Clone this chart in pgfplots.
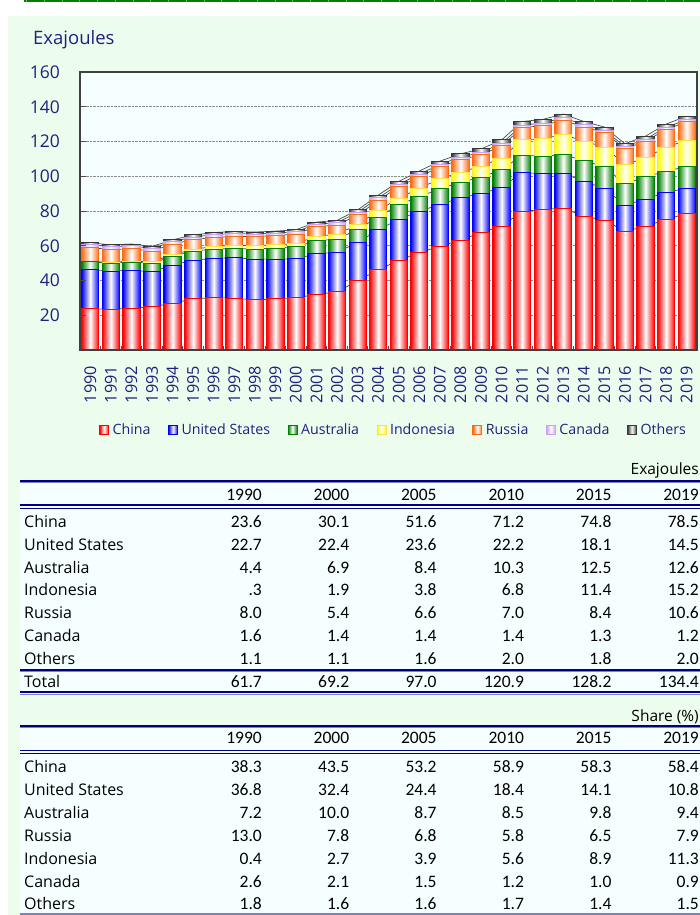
\documentclass[border=0pt]{standalone}
\usepackage{fontspec}
\setmainfont{Open Sans}
\newfontfamily\carlito{Carlito}
\usepackage{pgfplots}
\pgfplotsset{compat=1.18}
\usepackage{pgfplotstable}

\definecolor{panelbg}{HTML}{EDFDED}
\definecolor{plotbg}{HTML}{F5FFFF}
\definecolor{navytxt}{HTML}{202080}
\definecolor{tabline}{HTML}{000080}
\definecolor{tablight}{HTML}{8080C0}
\definecolor{cChn}{HTML}{FF0000}
\definecolor{cUS}{HTML}{0000FF}
\definecolor{cAus}{HTML}{008000}
\definecolor{cInd}{HTML}{FFFF00}
\definecolor{cIndB}{HTML}{FFE040}
\definecolor{cRus}{HTML}{FF6A10}
\definecolor{cCan}{HTML}{C8A0F8}
\definecolor{cOth}{HTML}{383838}
\definecolor{topgreen}{HTML}{008000}

\pgfplotstableread{
year China US Australia Indonesia Russia Canada Others
1990 23.6 22.7 4.4 0.3 8.0 1.6 1.1
1991 23.5 21.9 4.6 0.4 7.4 1.6 1.1
1992 24.0 22.0 4.6 0.5 7.2 1.6 1.1
1993 24.8 20.2 5.0 0.8 6.1 1.6 1.1
1994 26.9 21.9 5.0 1.0 6.2 1.4 1.0
1995 29.4 22.3 5.2 1.0 5.6 1.5 1.2
1996 30.2 22.5 5.4 1.5 5.2 1.6 1.2
1997 29.8 23.3 5.4 1.7 5.2 1.6 1.2
1998 28.8 23.5 5.8 1.9 5.2 1.5 1.2
1999 29.4 22.9 6.4 1.8 5.4 1.4 1.1
2000 30.1 22.4 6.9 1.9 5.4 1.4 1.1
2001 31.9 23.5 7.5 2.5 5.6 1.4 1.2
2002 33.5 22.8 7.5 2.9 5.2 1.4 1.3
2003 39.8 22.1 7.5 2.7 5.6 1.5 1.4
2004 46.2 23.0 7.3 3.7 5.8 1.5 1.6
2005 51.6 23.6 8.4 3.8 6.6 1.4 1.6
2006 56.0 23.8 8.5 4.8 6.7 1.4 1.8
2007 59.8 24.0 8.9 5.8 6.9 1.4 1.9
2008 63.1 24.4 9.0 5.8 7.3 1.4 1.9
2009 67.7 22.3 9.4 6.4 6.5 1.4 2.0
2010 71.2 22.2 10.3 6.8 7.0 1.4 2.0
2011 79.8 22.5 9.8 8.9 6.9 1.5 2.1
2012 80.8 20.5 10.2 10.0 7.7 1.4 2.1
2013 81.7 20.0 10.8 11.5 8.3 1.4 2.1
2014 76.9 20.2 11.9 11.2 8.1 1.3 1.9
2015 74.8 18.1 12.5 11.4 8.4 1.3 1.8
2016 68.3 15.0 12.3 11.1 9.1 1.2 1.7
2017 71.2 15.7 12.7 11.0 9.6 1.2 1.7
2018 75.2 15.6 12.1 13.8 10.2 1.3 1.8
2019 78.5 14.5 12.6 15.2 10.6 1.2 2.0
}\energydata

\pgfplotsset{
  base/.style={width=617pt,height=278pt,scale only axis,at={(80pt,-350pt)},anchor=south west,
    xmin=1989.5,xmax=2019.5,ymin=0,ymax=160},
  bs/.style 2 args={draw=#2,line width=1pt,left color=#1,right color=#1,middle color=white},
  one/.style={bar shift=0pt,forget plot,restrict x to domain=#1:#1},
  serl/.style={draw=black!70,line width=0.7pt,mark=none},
}

\newcommand\trow[8]{%
  \node[lab] at (24pt,-#1pt) {#2};
  \node[num] at (262pt,-#1pt) {#3};
  \node[num] at (349.4pt,-#1pt) {#4};
  \node[num] at (436.8pt,-#1pt) {#5};
  \node[num] at (524.2pt,-#1pt) {#6};
  \node[num] at (611.6pt,-#1pt) {#7};
  \node[num] at (699pt,-#1pt) {#8};
}

\begin{document}
\begin{tikzpicture}[
  lab/.style={anchor=base west,inner sep=0pt,font=\fontsize{16}{18}\selectfont},
  num/.style={anchor=base east,inner sep=0pt,font=\carlito\fontsize{17.5}{20}\selectfont},
]
\useasboundingbox (0,0) rectangle (700pt,-915pt);
\fill[white] (0,0) rectangle (700pt,-915pt);
\fill[topgreen] (24pt,0) rectangle (700pt,-2.5pt);
\foreach \k in {0,...,37} {\draw[green!45!black!60, line width=0.8pt] ({26.5pt+17.75pt*\k},0) -- ++(0,-2.5pt);}
\fill[panelbg] (8pt,-16pt) rectangle (700pt,-915pt);
\node[anchor=west,text=navytxt,font=\fontsize{18.5}{20}\selectfont,inner sep=0pt] at (33pt,-40pt) {Exajoules};

% series lines and background
\begin{axis}[base,
  axis background/.style={fill=plotbg},
  axis line style={draw=none},
  xtick=\empty, ytick={20,40,...,140}, yticklabels={},
  ymajorgrids, grid style={densely dotted,draw=gray!90,line width=0.7pt},
  major tick length=0pt]
\addplot[serl] table[x=year,y=China]{\energydata};
\addplot[serl] table[x=year,y expr=\thisrow{China}+\thisrow{US}]{\energydata};
\addplot[serl] table[x=year,y expr=\thisrow{China}+\thisrow{US}+\thisrow{Australia}]{\energydata};
\addplot[serl] table[x=year,y expr=\thisrow{China}+\thisrow{US}+\thisrow{Australia}+\thisrow{Indonesia}]{\energydata};
\addplot[serl] table[x=year,y expr=\thisrow{China}+\thisrow{US}+\thisrow{Australia}+\thisrow{Indonesia}+\thisrow{Russia}]{\energydata};
\addplot[serl] table[x=year,y expr=\thisrow{China}+\thisrow{US}+\thisrow{Australia}+\thisrow{Indonesia}+\thisrow{Russia}+\thisrow{Canada}]{\energydata};
\addplot[serl] table[x=year,y expr=\thisrow{China}+\thisrow{US}+\thisrow{Australia}+\thisrow{Indonesia}+\thisrow{Russia}+\thisrow{Canada}+\thisrow{Others}]{\energydata};
\end{axis}

% bars: each bar drawn on its own (cumulative heights, top level first)
\begin{axis}[base,
  ybar, bar width=0.84,
  axis on top,
  axis line style={draw=black!75,line width=1.3pt},
  ytick={20,40,...,160},
  xtick={1990,...,2019},
  minor xtick={1990.5,1991.5,...,2018.5},
  tick align=inside, xtick pos=bottom, ytick pos=left,
  major tick length=6pt, minor tick length=4pt,
  tick style={draw=black!70,line width=1pt},
  major x tick style={draw=none},
  /pgf/number format/1000 sep={},
  /pgf/number format/assume math mode=true,
  yticklabel style={font=\fontsize{17.5}{20}\selectfont,text=navytxt,inner sep=0pt,xshift=-20pt},
  xticklabel style={font=\fontsize{16.2}{18}\selectfont,text=navytxt,inner sep=0pt,yshift=-16pt,rotate=90,anchor=east},
  legend columns=7,
  legend style={at={(0.0308,-0.2878)},anchor=west,draw=none,fill=none,inner sep=0pt,
    font=\fontsize{14.2}{16}\selectfont,text=navytxt,nodes={inner sep=0pt},
    /tikz/every odd column/.append style={column sep=3.5pt},
    /tikz/every even column/.append style={column sep=17.5pt}},
  legend image code/.code={\draw[#1,line width=1pt] (0pt,-4.5pt) rectangle (9pt,4.5pt);},
]
\pgfplotsinvokeforeach{1990,...,2019}{
\addplot[bs={cOth}{cOth},one=#1] table[x=year,y expr=\thisrow{China}+\thisrow{US}+\thisrow{Australia}+\thisrow{Indonesia}+\thisrow{Russia}+\thisrow{Canada}+\thisrow{Others}]{\energydata};
\addplot[bs={cCan}{cCan},one=#1] table[x=year,y expr=\thisrow{China}+\thisrow{US}+\thisrow{Australia}+\thisrow{Indonesia}+\thisrow{Russia}+\thisrow{Canada}]{\energydata};
\addplot[bs={cRus}{cRus},one=#1] table[x=year,y expr=\thisrow{China}+\thisrow{US}+\thisrow{Australia}+\thisrow{Indonesia}+\thisrow{Russia}]{\energydata};
\addplot[bs={cInd}{cIndB},one=#1] table[x=year,y expr=\thisrow{China}+\thisrow{US}+\thisrow{Australia}+\thisrow{Indonesia}]{\energydata};
\addplot[bs={cAus}{cAus},one=#1] table[x=year,y expr=\thisrow{China}+\thisrow{US}+\thisrow{Australia}]{\energydata};
\addplot[bs={cUS}{cUS},one=#1] table[x=year,y expr=\thisrow{China}+\thisrow{US}]{\energydata};
\addplot[bs={cChn}{cChn},one=#1] table[x=year,y=China]{\energydata};
}
\addlegendimage{bs={cChn}{cChn}}\addlegendentry{China}
\addlegendimage{bs={cUS}{cUS}}\addlegendentry{United States}
\addlegendimage{bs={cAus}{cAus}}\addlegendentry{Australia}
\addlegendimage{bs={cInd}{cIndB}}\addlegendentry{Indonesia}
\addlegendimage{bs={cRus}{cRus}}\addlegendentry{Russia}
\addlegendimage{bs={cCan}{cCan}}\addlegendentry{Canada}
\addlegendimage{bs={cOth}{cOth}}\addlegendentry{Others}
\end{axis}

% table 1
\fill[plotbg] (20pt,-480pt) rectangle (700pt,-693pt);
\node[anchor=base east,inner sep=0pt,font=\fontsize{15.5}{17}\selectfont] at (699pt,-474.5pt) {Exajoules};
\draw[tabline,line width=2pt] (20pt,-480.5pt) -- (700pt,-480.5pt);
\draw[tablight,line width=0.8pt] (20pt,-482.2pt) -- (700pt,-482.2pt);
\trow{500.8}{}{1990}{2000}{2005}{2010}{2015}{2019}
\draw[tabline,line width=1.6pt] (20pt,-505pt) -- (700pt,-505pt);
\draw[tabline,line width=1pt] (20pt,-508pt) -- (700pt,-508pt);
\trow{527.5}{China}{23.6}{30.1}{51.6}{71.2}{74.8}{78.5}
\trow{550.3}{United States}{22.7}{22.4}{23.6}{22.2}{18.1}{14.5}
\trow{573.1}{Australia}{4.4}{6.9}{8.4}{10.3}{12.5}{12.6}
\trow{595.9}{Indonesia}{.3}{1.9}{3.8}{6.8}{11.4}{15.2}
\trow{618.7}{Russia}{8.0}{5.4}{6.6}{7.0}{8.4}{10.6}
\trow{641.5}{Canada}{1.6}{1.4}{1.4}{1.4}{1.3}{1.2}
\trow{664.3}{Others}{1.1}{1.1}{1.6}{2.0}{1.8}{2.0}
\draw[tabline,line width=2pt] (20pt,-669.5pt) -- (700pt,-669.5pt);
\draw[tablight,line width=0.8pt] (20pt,-671.2pt) -- (700pt,-671.2pt);
\trow{687.5}{Total}{61.7}{69.2}{97.0}{120.9}{128.2}{134.4}
\draw[tabline,line width=2pt] (20pt,-692.3pt) -- (700pt,-692.3pt);
\draw[tablight,line width=0.8pt] (20pt,-694pt) -- (700pt,-694pt);

% table 2
\fill[plotbg] (20pt,-726pt) rectangle (700pt,-915pt);
\node[anchor=base east,inner sep=0pt,font=\fontsize{15.5}{17}\selectfont] at (699pt,-721.5pt) {Share (\%)};
\draw[tabline,line width=2pt] (20pt,-726pt) -- (700pt,-726pt);
\draw[tablight,line width=0.8pt] (20pt,-727.7pt) -- (700pt,-727.7pt);
\trow{743.8}{}{1990}{2000}{2005}{2010}{2015}{2019}
\draw[tabline,line width=1.6pt] (20pt,-750.5pt) -- (700pt,-750.5pt);
\draw[tabline,line width=1pt] (20pt,-753.5pt) -- (700pt,-753.5pt);
\trow{772.8}{China}{38.3}{43.5}{53.2}{58.9}{58.3}{58.4}
\trow{795.65}{United States}{36.8}{32.4}{24.4}{18.4}{14.1}{10.8}
\trow{818.5}{Australia}{7.2}{10.0}{8.7}{8.5}{9.8}{9.4}
\trow{841.35}{Russia}{13.0}{7.8}{6.8}{5.8}{6.5}{7.9}
\trow{864.2}{Indonesia}{0.4}{2.7}{3.9}{5.6}{8.9}{11.3}
\trow{887.05}{Canada}{2.6}{2.1}{1.5}{1.2}{1.0}{0.9}
\trow{909.9}{Others}{1.8}{1.6}{1.6}{1.7}{1.4}{1.5}
\draw[tablight,line width=1.5pt] (20pt,-914.2pt) -- (700pt,-914.2pt);
\end{tikzpicture}
\end{document}
